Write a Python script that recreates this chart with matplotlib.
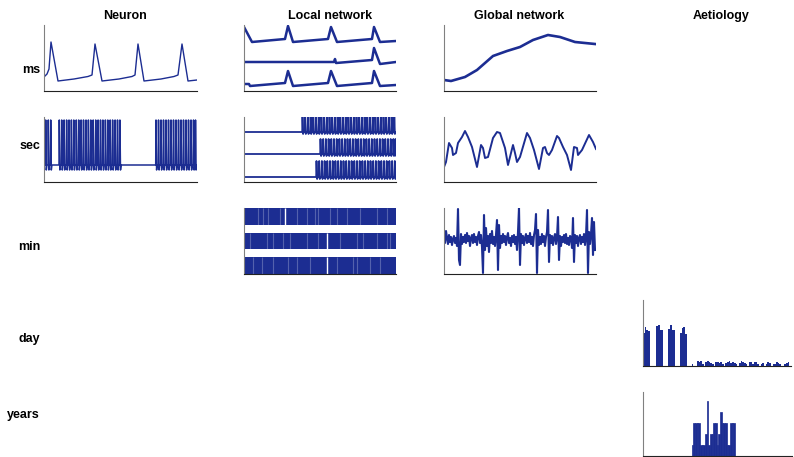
import matplotlib
matplotlib.use("Agg")
import matplotlib.pyplot as plt

plt.rcParams['font.family'] = ['Liberation Sans Narrow', 'Liberation Sans', 'DejaVu Sans']

BLUE = '#1c2d92'
W, H = 794, 457

col_titles = ['Neuron', 'Local network', 'Global network', 'Aetiology']
row_labels = ['ms', 'sec', 'min', 'day', 'years']

# --- Neuron, ms: membrane potential (time, value)
neuron_ms_t = [0, 3, 5, 7, 14, 30, 44, 48, 51, 58, 75, 88, 91, 94, 100, 117, 130, 134, 138, 144, 153]
neuron_ms_v = [14, 17, 22, 49, 10, 12, 14.5, 16, 47, 10, 12, 14.5, 16, 47, 10, 12, 14.5, 16, 47, 10, 11]

# --- Neuron, sec: spike times
neuron_sec_spikes = [1.7, 4.3, 6.7,
                     15.3, 17.7, 20.1, 22.6, 25.0, 27.4, 29.8, 32.3, 34.7, 37.1, 39.5, 42.0, 44.4,
                     46.8, 49.2, 51.7, 54.1, 56.5, 58.9, 61.4, 63.8, 66.2, 68.6, 71.1, 73.5, 75.9,
                     112.0, 114.5, 117.0, 119.5, 122.0, 124.5, 127.0, 129.5, 132.0, 134.5, 137.0,
                     139.5, 142.0, 144.5, 147.0, 149.5, 151.5]

# --- Local network, ms: three cells
local_ms = [
    ([0, 8, 41, 44, 49, 84, 87, 93, 128, 130, 136, 152],
     [64, 49, 52, 65, 49, 52, 64, 49, 52, 64, 49, 50]),
    ([0, 90, 91, 92, 128, 130, 136, 152],
     [29, 29, 32, 28, 31, 43, 27, 29]),
    ([0, 5, 6, 41, 44, 49, 84, 87, 93, 128, 130, 136, 152],
     [7, 7, 5, 8, 20, 5, 8, 20, 5, 8, 20, 5, 6]),
]

# --- Local network, sec: spike times of three cells (base, top, low levels)
local_sec_spikes = [
    [58.5, 61.2, 63.9, 66.6, 69.3, 72.0, 74.7, 77.4, 80.1, 82.8, 85.5, 88.2, 90.9, 93.6,
     96.3, 99.0, 101.7, 104.4, 107.1, 109.8, 112.5, 115.2, 117.9, 120.6, 123.3, 126.0,
     128.7, 131.4, 134.1, 136.8, 139.5, 142.2, 144.9, 147.6, 150.3],
    [76.5, 79.2, 81.9, 84.6, 87.3, 90.0, 92.7, 95.4, 98.1, 100.8, 103.5, 106.2, 108.9,
     111.6, 114.3, 117.0, 119.7, 122.4, 125.1, 127.8, 130.5, 133.2, 135.9, 138.6, 141.3,
     144.0, 146.7, 149.4, 151.5],
    [72.5, 75.2, 77.9, 80.6, 83.3, 86.0, 88.7, 91.4, 94.1, 96.8, 99.5, 102.2, 104.9,
     107.6, 110.3, 113.0, 115.7, 118.4, 121.1, 123.8, 126.5, 129.2, 131.9, 134.6, 137.3,
     140.0, 142.7, 145.4, 148.1, 150.8],
]
local_sec_levels = [(50, 65, 48), (28, 43, 26), (5, 21, 3)]

# --- Local network, min: raster bands (y range), white gaps and lighter stripes
local_min_bands = [(49, 17), (25, 16), (0, 17)]
local_min_gaps = [[41], [83], [83]]
local_min_light = [
    [14, 19, 24, 36, 53, 63, 71, 74, 86, 93, 103, 116, 133, 143],
    [6, 23, 29, 39, 46, 63, 74, 96, 113, 119, 133, 143, 146],
    [9, 18, 29, 44, 53, 66, 93, 109, 113, 126, 136],
]

# --- Global network, ms
global_ms_t = [0, 7, 21, 33, 49, 63, 76, 89, 104, 116, 131, 151]
global_ms_v = [11, 10, 14, 21, 35, 40, 44, 51, 56, 54, 49, 47]

# --- Global network, sec
global_sec_t = [0, 2, 5, 8, 9, 12, 14, 18, 21, 24, 28, 33, 37, 39, 41, 44, 49, 53, 56, 61,
                64, 69, 71, 73, 76, 83, 86, 90, 95, 99, 101, 103, 105, 108, 113, 115, 119,
                123, 127, 130, 133, 134, 138, 145, 149, 152]
global_sec_v = [15, 20, 39, 34, 27, 29, 39, 45, 51, 45, 35, 15, 37, 34, 24, 25, 44, 50, 49, 34,
                17, 37, 29, 20, 25, 49, 44, 32, 13, 34, 35, 29, 27, 32, 46, 44, 35,
                27, 12, 35, 34, 27, 32, 47, 40, 33]

# --- Global network, min: EEG deviation from baseline
global_min_base = 34
global_min_dev = [0, -3, 9, 2, -4, 5, -2, 3, -5, 1,
                  4, -3, 2, -6, 31, -20, -25, 6, -4, 3,
                  -2, 5, -3, 7, -1, 4, -6, 2, 5, -3,
                  6, -2, 3, -5, 4, 8, -3, 5, -7, -33,
                  25, -10, 12, -6, 4, -12, 6, -3, 9, -4,
                  3, -6, 5, 20, -30, 15, -8, 4, -3, 6,
                  -2, 4, -5, 3, 7, -3, 2, -6, 4, -2,
                  5, -4, 3, -10, 8, 32, -25, 6, -3, 4,
                  -5, 2, 6, -3, 4, -2, 7, -4, 3, -6,
                  5, 10, 26, -33, 10, -5, 3, -4, 6, -2,
                  4, -6, 3, 8, 30, -22, 5, -3, 4, -5,
                  2, 6, -4, 3, 23, -20, 4, -6, 3, -2,
                  5, -3, 6, -4, 2, -5, 4, 3, -8, 22,
                  -22, 5, -3, 4, -6, 2, 5, -4, 3, -2,
                  6, -5, 4, 30, -33, 8, -4, 6, 22, -15,
                  18, -10]

# --- Aetiology: seizure counts per bin
day_counts = [33, 39, 36, 35, 0, 0, 0, 0, 40, 41, 36, 36, 0, 0, 0, 37, 41, 36, 36, 0,
              0, 0, 33, 38, 39, 32, 0, 0, 0, 2, 0, 0, 5, 4, 5, 2, 0, 4, 5, 4,
              3, 2, 0, 4, 4, 3, 4, 2, 0, 3, 4, 5, 3, 4, 3, 2, 0, 3, 5, 4,
              3, 2, 0, 4, 4, 2, 4, 4, 2, 0, 2, 3, 0, 2, 4, 3, 0, 2, 2, 4,
              3, 2, 0, 0, 2, 3, 4, 0]
years_counts = {29: 1, 30: 3, 31: 3, 32: 3, 33: 3, 34: 1, 35: 1, 36: 1, 37: 2, 38: 5,
                39: 1, 40: 2, 41: 2, 42: 3, 43: 3, 44: 1, 45: 2, 46: 4, 47: 3, 48: 3,
                49: 3, 50: 1, 51: 1, 52: 3, 53: 3, 54: 3}


def spike_trace(times, base, top, low, end):
    xs, ys = [0], [base]
    for t in times:
        xs += [t - 0.3, t, t + 0.6, t + 1.2]
        ys += [base, top, low, base]
    xs.append(end)
    ys.append(base)
    return xs, ys


def panel(x0, y0, x1, y1, xmax=152, ymax=66):
    ax = fig.add_axes([x0 / W, 1 - y1 / H, (x1 - x0) / W, (y1 - y0) / H])
    ax.set_xlim(0, xmax)
    ax.set_ylim(0, ymax)
    ax.set_xticks([])
    ax.set_yticks([])
    ax.spines['top'].set_visible(False)
    ax.spines['right'].set_visible(False)
    ax.spines['left'].set_color('#808080')
    ax.spines['bottom'].set_color('#222222')
    ax.patch.set_alpha(0)
    return ax


fig = plt.figure(figsize=(W / 100, H / 100), dpi=100)

# Neuron
ax = panel(44, 25, 197, 91, xmax=153)
ax.plot(neuron_ms_t, neuron_ms_v, color=BLUE, lw=1.0)

ax = panel(44, 117, 197, 182, xmax=153, ymax=65)
xs, ys = spike_trace(neuron_sec_spikes, 17, 62, 12, 153)
ax.plot(xs, ys, color=BLUE, lw=1.1)

# Local network
ax = panel(244, 25, 396, 91)
for t, v in local_ms:
    ax.plot(t, v, color=BLUE, lw=1.8)

ax = panel(244, 117, 396, 182, ymax=65)
for times, (base, top, low) in zip(local_sec_spikes, local_sec_levels):
    xs, ys = spike_trace(times, base, top, low, 152)
    ax.plot(xs, ys, color=BLUE, lw=1.3)

ax = panel(244, 208, 396, 274)
for (yb, hgt), gaps, light in zip(local_min_bands, local_min_gaps, local_min_light):
    ax.broken_barh([(0, 152)], (yb, hgt), facecolor=BLUE, edgecolor='none')
    ax.vlines(light, yb, yb + hgt, color='white', lw=0.8, alpha=0.25)
    ax.vlines(gaps, yb, yb + hgt, color='white', lw=1.0)

# Global network
ax = panel(444, 25, 596, 91)
ax.plot(global_ms_t, global_ms_v, color=BLUE, lw=1.9)

ax = panel(444, 117, 596, 182, ymax=65)
ax.plot(global_sec_t, global_sec_v, color=BLUE, lw=1.4)

ax = panel(444, 208, 596, 274)
ax.plot(range(len(global_min_dev)), [global_min_base + d for d in global_min_dev],
        color=BLUE, lw=1.5)

# Aetiology
ax = panel(643, 300, 791, 366, xmax=88, ymax=66)
ax.bar(range(len(day_counts)), day_counts, width=1.0, align='edge',
       color=BLUE, edgecolor='none')

ax = panel(643, 392, 792, 456, xmax=89, ymax=5.85)
ax.bar(list(years_counts.keys()), list(years_counts.values()), width=1.0, align='edge',
       color=BLUE, edgecolor=BLUE, linewidth=0.5)

# Titles and row labels
for title, xc in zip(col_titles, [125, 330, 519, 721]):
    fig.text(xc / W, 1 - 16 / H, title, ha='center', va='center',
             fontsize=9, fontweight='bold')
for lab, yc in zip(row_labels, [70, 146, 247, 339, 415]):
    fig.text(40 / W, 1 - yc / H, lab, ha='right', va='center',
             fontsize=9, fontweight='bold')

fig.savefig('out.png', dpi=100)
